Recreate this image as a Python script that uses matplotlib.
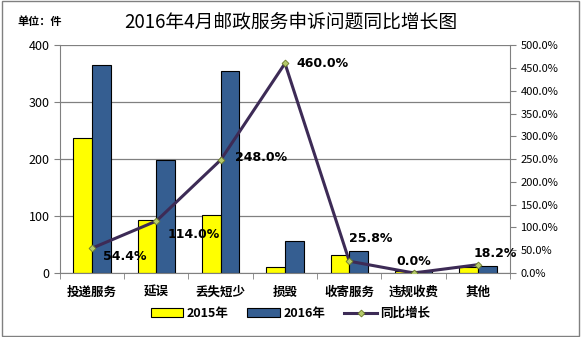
import numpy as np
import matplotlib.pyplot as plt
from matplotlib.ticker import FuncFormatter

plt.rcParams['font.family'] = ['Noto Sans CJK SC', 'DejaVu Sans']

categories = ["投递服务", "延误", "丢失短少", "损毁", "收寄服务", "违规收费", "其他"]
count_2015 = [237, 93, 102, 10, 31, 3, 11]
count_2016 = [366, 199, 355, 56, 39, 3, 13]
growth = [54.4, 114.0, 248.0, 460.0, 25.8, 0.0, 18.2]
growth_labels = ["54.4%", "114.0%", "248.0%", "460.0%", "25.8%", "0.0%", "18.2%"]


def main():
    fig = plt.figure(figsize=(5.81, 3.37), dpi=100)
    ax = fig.add_axes([0.103, 0.19, 0.775, 0.676])
    ax2 = ax.twinx()

    x = np.arange(len(categories))
    width = 0.29
    b1 = ax.bar(x - width / 2, count_2015, width, color="#FFFF00", edgecolor="black", linewidth=0.8, zorder=2)
    b2 = ax.bar(x + width / 2, count_2016, width, color="#355E91", edgecolor="black", linewidth=0.8, zorder=2)

    ax.set_xlim(-0.5, len(categories) - 0.5)
    ax.set_ylim(0, 400)
    ax.set_yticks(range(0, 401, 100))
    ax.yaxis.grid(True, color="#808080", linewidth=0.9)
    ax.set_axisbelow(True)
    ax.set_xticks(x)
    ax.set_xticklabels(categories, fontsize=9, fontweight="bold")
    ax.set_xticks(np.arange(-0.5, len(categories), 1), minor=True)
    ax.tick_params(axis="x", which="major", length=0, pad=9)
    ax.tick_params(axis="x", which="minor", length=4, color="#808080")
    ax.tick_params(axis="y", labelsize=9, color="#808080", length=4)
    for side in ["top", "right"]:
        ax.spines[side].set_visible(False)
        ax2.spines[side].set_visible(False)
    ax.spines["left"].set_color("#808080")
    ax.spines["bottom"].set_color("#808080")
    ax2.spines["left"].set_visible(False)
    ax2.spines["bottom"].set_visible(False)
    ax2.spines["right"].set_visible(True)
    ax2.spines["right"].set_color("#808080")

    line, = ax2.plot(x, growth, color="#3D2B56", linewidth=2.2, marker="D", markersize=3.5,
                     markerfacecolor="#B5C96A", markeredgecolor="#6B7A2A", markeredgewidth=0.6, zorder=3)
    ax2.set_ylim(0, 500)
    ax2.set_yticks(range(0, 501, 50))
    ax2.yaxis.set_major_formatter(FuncFormatter(lambda v, p: "%.1f%%" % v))
    ax2.tick_params(axis="y", labelsize=8, color="#808080", length=4)

    # label placement next to each point (points)
    offsets = [(8, -6), (8, -10), (10, 2), (8, 0), (0, 16), (0, 8), (-3, 8)]
    for i, lab in enumerate(growth_labels):
        dx, dy = offsets[i]
        ha = "center" if i == 5 else "left"
        ax2.annotate(lab, (x[i], growth[i]), xytext=(dx, dy), textcoords="offset points",
                     ha=ha, va="center", fontsize=9, fontweight="bold", family="DejaVu Sans")

    fig.text(0.5, 0.935, "2016年4月邮政服务申诉问题同比增长图", ha="center", va="center", fontsize=13.5)
    fig.text(0.03, 0.935, "单位：件", ha="left", va="center", fontsize=8, fontweight="bold")

    leg = fig.legend([b1, b2, line], ["2015年", "2016年", "同比增长"], loc="center",
                     bbox_to_anchor=(0.5, 0.07), ncol=3, frameon=False, fontsize=9,
                     handlelength=2.6, columnspacing=1.5, handletextpad=0.3)
    for t in leg.get_texts():
        t.set_fontweight("bold")

    fig.patches.append(plt.Rectangle((0.003, 0.004), 0.994, 0.992, transform=fig.transFigure,
                                     fill=False, edgecolor="#808080", linewidth=1))
    fig.savefig("out.png", dpi=100)


if __name__ == '__main__':
    main()
